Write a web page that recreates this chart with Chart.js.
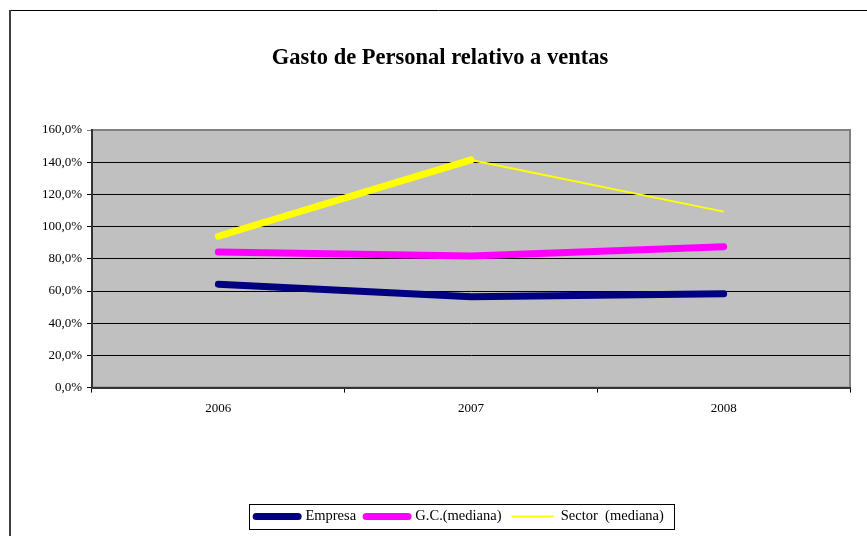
<!DOCTYPE html>
<html>
<head>
<meta charset="utf-8">
<script src="https://cdn.jsdelivr.net/npm/chart.js@4"></script>
<style>
  html, body { margin: 0; padding: 0; background: #fff; }
  #wrap { width: 867px; height: 536px; }
</style>
</head>
<body>
<div id="wrap"><canvas id="chartGasto"></canvas></div>
<script>
// Gasto de Personal relativo a ventas

const YEARS = ['2006', '2007', '2008'];
const EMPRESA = [64.2, 56.5, 58.3];
const GC_MEDIANA = [84.2, 81.7, 87.5];
const SECTOR_MEDIANA = [94.0, 141.4, 109.3];
const Y_MIN = 0;
const Y_MAX = 160;
const Y_STEP = 20;

const COLORS = {
  empresa: '#000080',
  gc: '#FF00FF',
  sector: '#FFFF00',
  plot: '#C0C0C0',
};

const SERIF = '"Liberation Serif", "Times New Roman", serif';

// fondo gris del área de trazado + marco exterior
const framePlugin = {
  id: 'frame',
  afterLayout(chart) {
    // desplazar título y leyenda como en el original
    const lg = chart.legend;
    if (lg) { lg.left += 35; lg.right += 35; }
    const tb = chart.titleBlock;
    if (tb) { tb.left += 15; tb.right += 15; }
  },
  beforeDraw(chart) {
    const { ctx, chartArea: a } = chart;
    ctx.save();
    ctx.fillStyle = COLORS.plot;
    ctx.fillRect(a.left, a.top, a.right - a.left, a.bottom - a.top);
    ctx.strokeStyle = '#808080';
    ctx.lineWidth = 2;
    ctx.strokeRect(a.left, a.top, a.right - a.left, a.bottom - a.top);
    // marco exterior
    ctx.strokeStyle = '#000';
    ctx.lineWidth = 1;
    ctx.beginPath();
    ctx.moveTo(9, 10.5);
    ctx.lineTo(900, 10.5);
    ctx.stroke();
    ctx.strokeStyle = '#404040';
    ctx.lineWidth = 2;
    ctx.beginPath();
    ctx.moveTo(10, 10);
    ctx.lineTo(10, 600);
    ctx.stroke();
    ctx.restore();
  },
  afterDraw(chart) {
    const lg = chart.legend;
    if (!lg || !lg.legendHitBoxes.length) return;
    const boxes = lg.legendHitBoxes;
    const first = boxes[0];
    const last = boxes[boxes.length - 1];
    const x0 = first.left - 7.5;
    const x1 = last.left + last.width + 10;
    const y0 = first.top - 5;
    const y1 = first.top + first.height + 5.25;
    const ctx = chart.ctx;
    ctx.save();
    ctx.strokeStyle = '#000';
    ctx.lineWidth = 1;
    ctx.strokeRect(Math.round(x0) + 0.5, Math.round(y0) + 0.5, Math.round(x1 - x0), Math.round(y1 - y0));
    ctx.restore();
  },
};

const LEGEND_STYLE = [
  { width: 7, cap: 'round' },
  { width: 7, cap: 'round' },
  { width: 2, cap: 'butt' },
];

new Chart(document.getElementById('chartGasto'), {
  type: 'line',
  data: {
    labels: YEARS,
    datasets: [
      {
        label: 'Empresa',
        data: EMPRESA,
        borderColor: COLORS.empresa,
        backgroundColor: COLORS.empresa,
        borderWidth: 7,
        borderCapStyle: 'round',
        borderJoinStyle: 'round',
        pointRadius: 0,
        fill: false,
      },
      {
        label: 'G.C.(mediana)',
        data: GC_MEDIANA,
        borderColor: COLORS.gc,
        backgroundColor: COLORS.gc,
        borderWidth: 7,
        borderCapStyle: 'round',
        borderJoinStyle: 'round',
        pointRadius: 0,
        fill: false,
      },
      {
        label: 'Sector  (mediana)',
        data: SECTOR_MEDIANA,
        borderColor: COLORS.sector,
        backgroundColor: COLORS.sector,
        borderWidth: 7,
        borderCapStyle: 'round',
        borderJoinStyle: 'round',
        pointRadius: 0,
        fill: false,
        segment: {
          borderWidth: c => (c.p0DataIndex === 0 ? 7 : 2),
          borderCapStyle: c => (c.p0DataIndex === 0 ? 'round' : 'butt'),
        },
      },
    ],
  },
  options: {
    responsive: true,
    maintainAspectRatio: false,
    animation: false,
    layout: { padding: { left: 0, right: 17, top: 0, bottom: 2.25 } },
    plugins: {
      title: {
        display: true,
        text: 'Gasto de Personal relativo a ventas',
        color: '#000',
        font: { family: SERIF, size: 22.5, weight: 'bold' },
        padding: { top: 45, bottom: 58 },
      },
      legend: {
        display: true,
        position: 'bottom',
        labels: {
          color: '#000',
          font: { family: SERIF, size: 14.5 },
          padding: 10,
          usePointStyle: true,
          pointStyleWidth: 42,
          generateLabels: chart => chart.data.datasets.map((ds, i) => ({
            text: ds.label,
            fillStyle: ds.borderColor,
            strokeStyle: ds.borderColor,
            lineWidth: LEGEND_STYLE[i].width,
            lineCap: LEGEND_STYLE[i].cap,
            pointStyle: 'line',
            datasetIndex: i,
            hidden: false,
          })),
        },
      },
      tooltip: { enabled: false },
    },
    scales: {
      x: {
        offset: true,
        grid: { display: true, drawOnChartArea: false, offset: true, color: '#000', tickLength: 5 },
        border: { color: '#333', width: 2 },
        ticks: { color: '#000', padding: 8.5, font: { family: SERIF, size: 13 }, maxRotation: 0 },
        afterFit: s => { s.height = 111.65; },
      },
      y: {
        min: Y_MIN,
        max: Y_MAX,
        grid: {
          color: c => (c.tick && c.tick.value === Y_MAX ? '#808080' : '#000'),
          tickLength: 5,
        },
        border: { color: '#333', width: 2 },
        ticks: {
          stepSize: Y_STEP,
          color: '#000',
          padding: 5,
          font: { family: SERIF, size: 13 },
          callback: v => v.toFixed(1).replace('.', ',') + '%',
        },
        afterFit: s => { s.width = 92; },
      },
    },
  },
  plugins: [framePlugin],
});
</script>
</body>
</html>
